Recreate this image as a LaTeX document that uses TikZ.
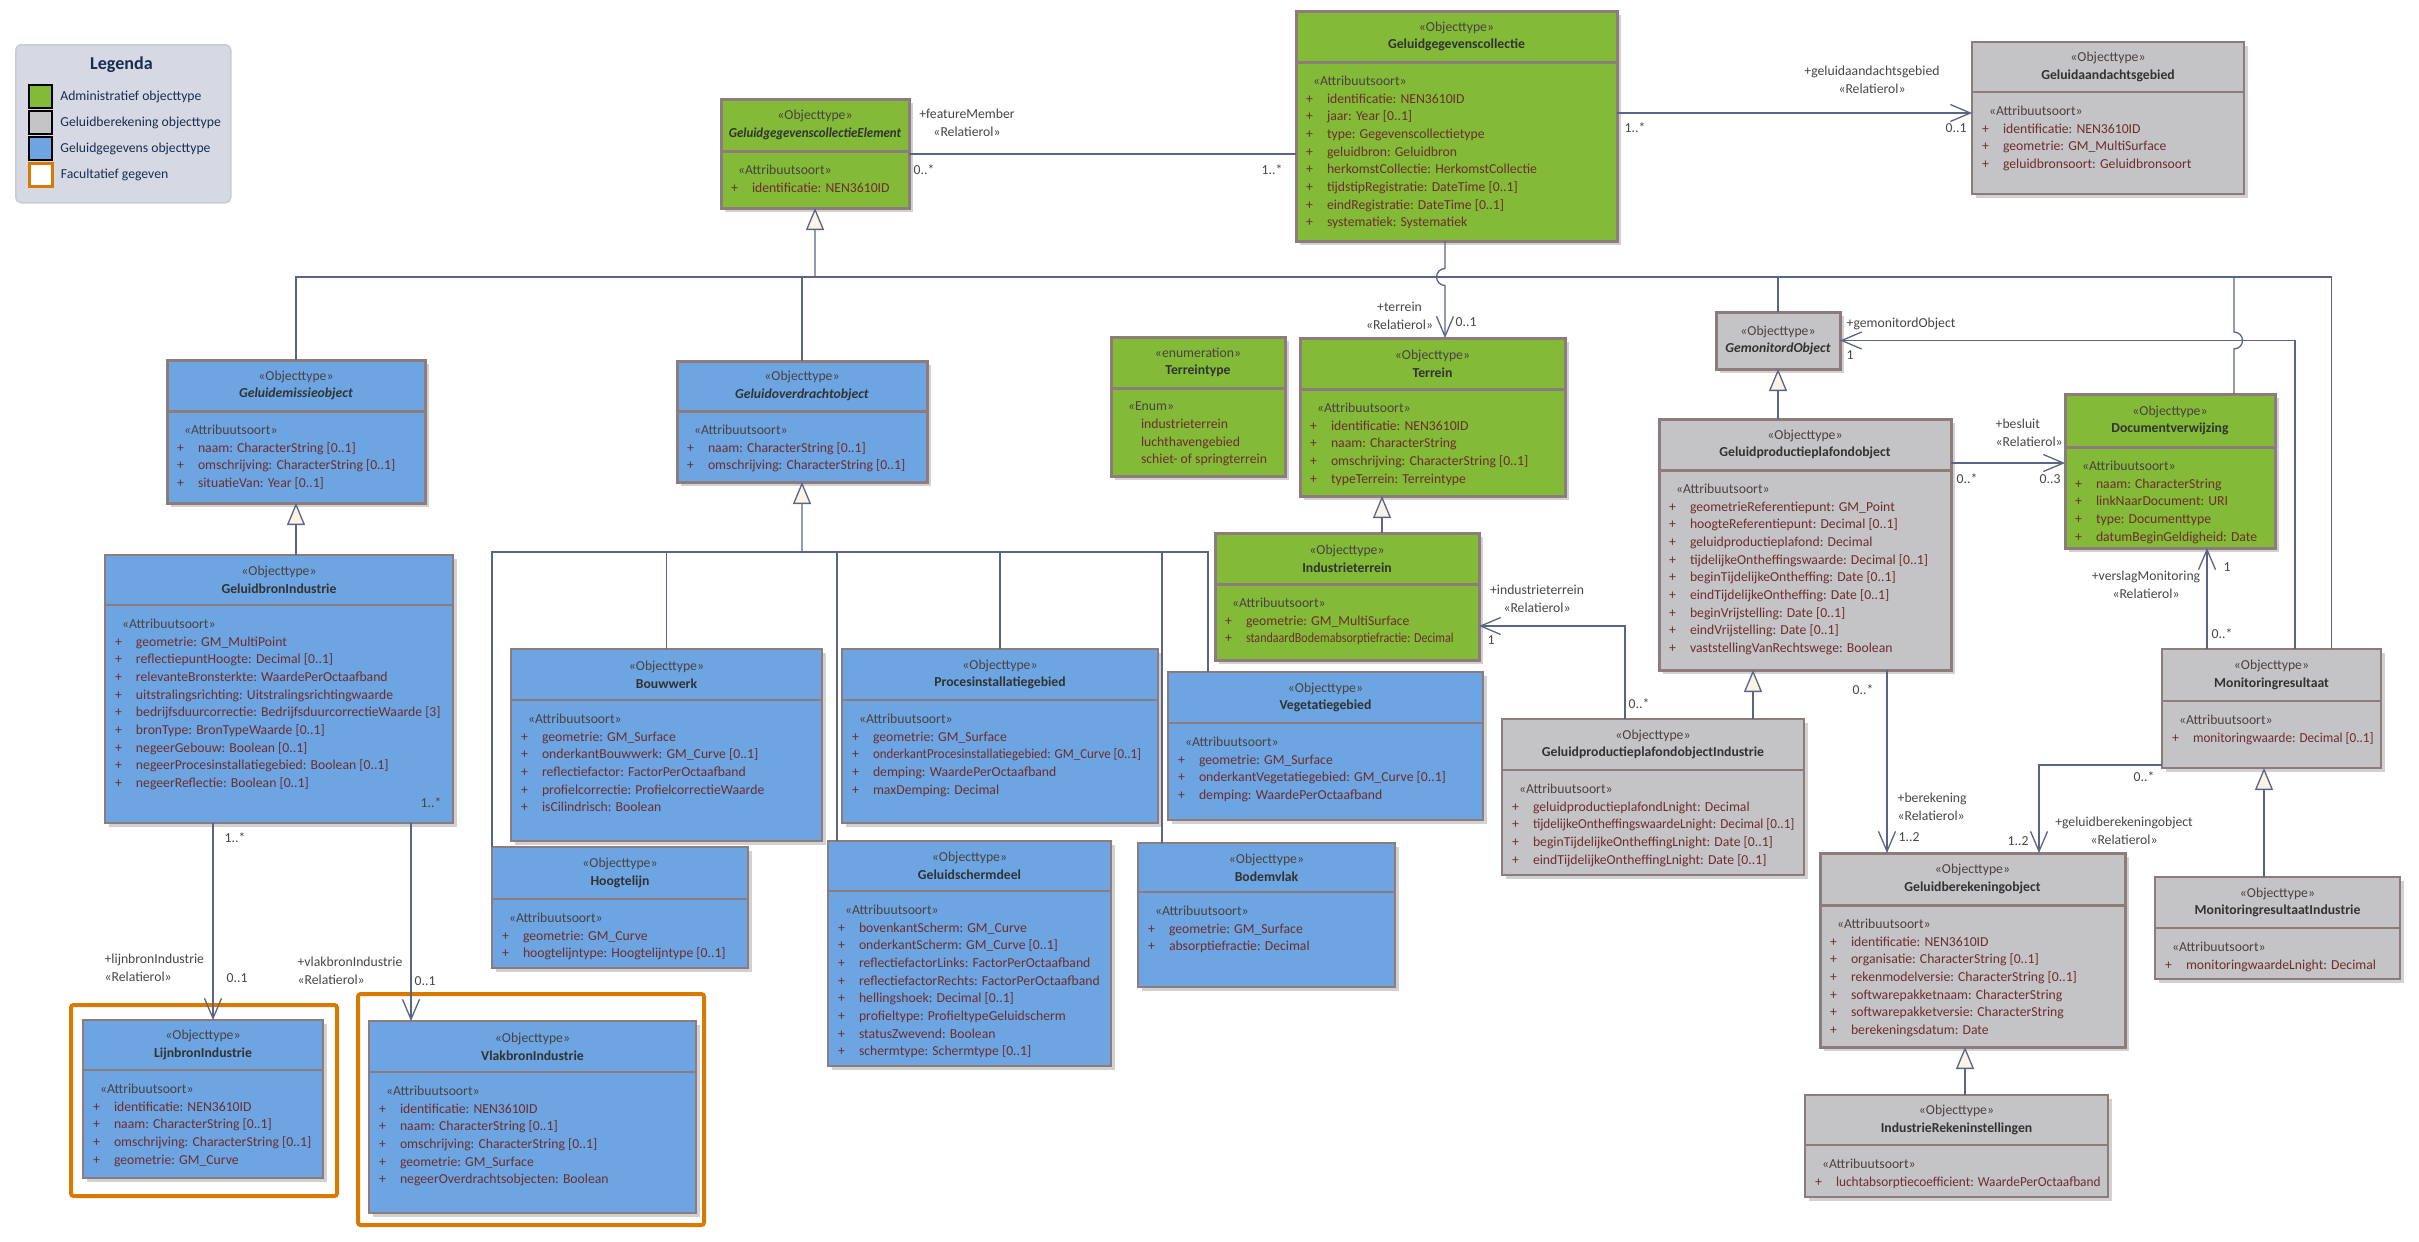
\documentclass[tikz,border=0pt]{standalone}
\usepackage{fontspec}
\setmainfont{Carlito}
\usepackage{tikz}
\usetikzlibrary{arrows.meta}
\usetikzlibrary{positioning,shadows}

\definecolor{admin}{RGB}{131,186,56}
\definecolor{reken}{RGB}{196,196,198}
\definecolor{gegevens}{RGB}{108,165,225}
\definecolor{rand}{RGB}{142,124,124}
\definecolor{lijnkleur}{RGB}{90,100,135}
\definecolor{creme}{RGB}{251,243,228}
\definecolor{oranje}{RGB}{217,122,0}
\definecolor{naamkleur}{RGB}{50,50,50}
\definecolor{stereokleur}{RGB}{75,65,65}
\definecolor{attrkleur}{RGB}{110,45,45}
\definecolor{labelkleur}{RGB}{70,70,70}
\definecolor{legbg}{RGB}{214,217,227}
\definecolor{legrand}{RGB}{200,203,213}
\definecolor{legblauw}{RGB}{25,45,80}

\newcommand{\objtype}{\textcolor{stereokleur}{«Objecttype»}}
\newcommand{\soort}[1][«Attribuutsoort»]{\vspace*{0.28cm}\mbox{\hspace*{0.34cm}\textcolor{stereokleur}{#1}}\par}
\newcommand{\attr}[1]{\mbox{\hspace*{0.2cm}\makebox[0.42cm][l]{+}#1}\par}
\newcommand{\waarde}[1]{\mbox{\hspace*{0.6cm}#1}\par}

\tikzset{
    font={\fontsize{7.8pt}{10.05pt}\selectfont},
    kop/.style={
           rectangle,
           draw=rand, line width=0.03cm,
           anchor=north west,
           inner sep=0pt, outer sep=0pt,
           align=center,
           text=naamkleur,
           drop shadow={shadow xshift=0.08cm, shadow yshift=-0.08cm, fill=black!18, opacity=1},
           },
    romp/.style={
           rectangle,
           draw=rand, line width=0.03cm,
           inner sep=0pt, outer sep=0pt,
           text=attrkleur,
           drop shadow={shadow xshift=0.08cm, shadow yshift=-0.08cm, fill=black!18, opacity=1},
           },
    vet/.style={line width=0.06cm},
    groen/.style={fill=admin},
    grijs/.style={fill=reken},
    blauw/.style={fill=gegevens},
    lijn/.style={draw=lijnkleur, line width=0.026cm},
    pijl/.style={lijn, -{Straight Barb[length=0.40cm, width=0.34cm]}},
    erft/.style={lijn, -{Triangle[length=0.44cm, width=0.36cm, fill=creme]}},
    rol/.style={text=labelkleur, inner sep=0pt, align=center},
    mult/.style={text=labelkleur, inner sep=0pt, anchor=west},
    facultatief/.style={draw=oranje, line width=0.08cm, rounded corners=1.5pt},
    vakje/.style={rectangle, minimum size=0.46cm, inner sep=0pt, draw=black, line width=0.04cm},
    legregel/.style={text=legblauw, inner sep=0pt, anchor=west},
}

\begin{document}
\begin{tikzpicture}
\useasboundingbox (0,0) rectangle (48.38,-24.82);

% Legenda
\node[draw=legrand, fill=legbg, rounded corners=3pt, line width=0.03cm, anchor=north west,
      minimum width=4.30cm, minimum height=3.16cm] (LEGENDA) at (0.30,-0.88) {};
\node[text=legblauw, inner sep=0pt, font={\fontsize{10.3pt}{12pt}\selectfont\bfseries}] (LEGTITEL) at (2.43,-1.30) {Legenda};
\node[vakje, fill=admin] (LEG1) at (0.81,-1.93) {};
\node[vakje, fill=reken] (LEG2) at (0.81,-2.45) {};
\node[vakje, fill=gegevens] (LEG3) at (0.81,-2.97) {};
\node[vakje, fill=white, draw=oranje, line width=0.06cm] (LEG4) at (0.81,-3.50) {};
\node[legregel, right=0.14cm of LEG1] (LEG1T) {Administratief objecttype};
\node[legregel, right=0.14cm of LEG2] (LEG2T) {Geluidberekening objecttype};
\node[legregel, right=0.14cm of LEG3] (LEG3T) {Geluidgegevens objecttype};
\node[legregel, right=0.14cm of LEG4] (LEG4T) {Facultatief gegeven};

% facultatieve gegevens
\draw[facultatief] (1.42,-20.10) rectangle (6.74,-23.92);
\draw[facultatief] (7.16,-19.88) rectangle (14.08,-24.50);

% Geluidgegevenscollectie
\node[kop, groen, vet, minimum width=6.42cm, minimum height=1.02cm] (GGC) at (25.92,-0.22) {\objtype\\\textbf{Geluidgegevenscollectie}};
\node[romp, groen, vet, below right=0pt of GGC.south west] (GGCA) {\parbox[c][3.58cm][t]{6.42cm}{\soort
    \attr{identificatie: NEN3610ID}
    \attr{jaar: Year [0..1]}
    \attr{type: Gegevenscollectietype}
    \attr{geluidbron: Geluidbron}
    \attr{herkomstCollectie: HerkomstCollectie}
    \attr{tijdstipRegistratie: DateTime [0..1]}
    \attr{eindRegistratie: DateTime [0..1]}
    \attr{systematiek: Systematiek}}};

% GeluidgegevenscollectieElement
\node[kop, groen, vet, minimum width=3.76cm, minimum height=1.04cm] (GGCE) at (14.42,-1.98) {\objtype\\\scalebox{0.94}[1]{\textbf{\textit{GeluidgegevenscollectieElement}}}};
\node[romp, groen, vet, below right=0pt of GGCE.south west] (GGCEA) {\parbox[c][1.14cm][t]{3.76cm}{\soort
    \attr{identificatie: NEN3610ID}}};

% Geluidaandachtsgebied
\node[kop, grijs, minimum width=5.44cm, minimum height=1.00cm] (GAG) at (39.44,-0.84) {\objtype\\\textbf{Geluidaandachtsgebied}};
\node[romp, grijs, below right=0pt of GAG.south west] (GAGA) {\parbox[c][2.04cm][t]{5.44cm}{\soort
    \attr{identificatie: NEN3610ID}
    \attr{geometrie: GM\_MultiSurface}
    \attr{geluidbronsoort: Geluidbronsoort}}};

% Geluidemissieobject
\node[kop, blauw, vet, minimum width=5.16cm, minimum height=1.02cm] (GEO) at (3.34,-7.20) {\objtype\\\textbf{\textit{Geluidemissieobject}}};
\node[romp, blauw, vet, below right=0pt of GEO.south west] (GEOA) {\parbox[c][1.84cm][t]{5.16cm}{\soort
    \attr{naam: CharacterString [0..1]}
    \attr{omschrijving: CharacterString [0..1]}
    \attr{situatieVan: Year [0..1]}}};

% Geluidoverdrachtobject
\node[kop, blauw, vet, minimum width=5.00cm, minimum height=1.00cm] (GOO) at (13.54,-7.22) {\objtype\\\textbf{\textit{Geluidoverdrachtobject}}};
\node[romp, blauw, vet, below right=0pt of GOO.south west] (GOOA) {\parbox[c][1.42cm][t]{5.00cm}{\soort
    \attr{naam: CharacterString [0..1]}
    \attr{omschrijving: CharacterString [0..1]}}};

% Terreintype
\node[kop, groen, vet, minimum width=3.48cm, minimum height=1.02cm] (TT) at (22.22,-6.74) {\textcolor{stereokleur}{«enumeration»}\\\textbf{Terreintype}};
\node[romp, groen, vet, below right=0pt of TT.south west] (TTA) {\parbox[c][1.76cm][t]{3.48cm}{\soort[«Enum»]
    \waarde{industrieterrein}
    \waarde{luchthavengebied}
    \waarde{schiet- of springterrein}}};

% Terrein
\node[kop, groen, vet, minimum width=5.30cm, minimum height=1.02cm] (TER) at (26.00,-6.76) {\objtype\\\textbf{Terrein}};
\node[romp, groen, vet, below right=0pt of TER.south west] (TERA) {\parbox[c][2.14cm][t]{5.30cm}{\soort
    \attr{identificatie: NEN3610ID}
    \attr{naam: CharacterString}
    \attr{omschrijving: CharacterString [0..1]}
    \attr{typeTerrein: Terreintype}}};

% Industrieterrein
\node[kop, groen, vet, minimum width=5.28cm, minimum height=1.02cm] (IT) at (24.30,-10.66) {\objtype\\\textbf{Industrieterrein}};
\node[romp, groen, vet, below right=0pt of IT.south west] (ITA) {\parbox[c][1.52cm][t]{5.28cm}{\soort
    \attr{geometrie: GM\_MultiSurface}
    \attr{\scalebox{0.88}[1]{standaardBodemabsorptiefractie: Decimal}}}};

% GemonitordObject
\node[kop, grijs, vet, minimum width=2.48cm, minimum height=1.14cm] (GMO) at (34.32,-6.24) {\objtype\\\textbf{\textit{GemonitordObject}}};

% Geluidproductieplafondobject
\node[kop, grijs, vet, minimum width=5.84cm, minimum height=1.02cm] (GPO) at (33.18,-8.38) {\objtype\\\textbf{Geluidproductieplafondobject}};
\node[romp, grijs, vet, below right=0pt of GPO.south west] (GPOA) {\parbox[c][4.00cm][t]{5.84cm}{\soort
    \attr{geometrieReferentiepunt: GM\_Point}
    \attr{hoogteReferentiepunt: Decimal [0..1]}
    \attr{geluidproductieplafond: Decimal}
    \attr{tijdelijkeOntheffingswaarde: Decimal [0..1]}
    \attr{beginTijdelijkeOntheffing: Date [0..1]}
    \attr{eindTijdelijkeOntheffing: Date [0..1]}
    \attr{beginVrijstelling: Date [0..1]}
    \attr{eindVrijstelling: Date [0..1]}
    \attr{vaststellingVanRechtswege: Boolean}}};

% Documentverwijzing
\node[kop, groen, vet, minimum width=4.20cm, minimum height=1.06cm] (DV) at (41.30,-7.88) {\objtype\\\textbf{Documentverwijzing}};
\node[romp, groen, vet, below right=0pt of DV.south west] (DVA) {\parbox[c][2.02cm][t]{4.20cm}{\soort
    \attr{naam: CharacterString}
    \attr{linkNaarDocument: URI}
    \attr{type: Documenttype}
    \attr{datumBeginGeldigheid: Date}}};

% Monitoringresultaat
\node[kop, grijs, minimum width=4.38cm, minimum height=1.04cm] (MR) at (43.24,-12.98) {\objtype\\\textbf{Monitoringresultaat}};
\node[romp, grijs, below right=0pt of MR.south west] (MRA) {\parbox[c][1.34cm][t]{4.38cm}{\soort
    \attr{\scalebox{0.96}[1]{monitoringwaarde: Decimal [0..1]}}}};

% GeluidbronIndustrie
\node[kop, blauw, minimum width=6.96cm, minimum height=1.00cm] (GBI) at (2.10,-11.10) {\objtype\\\textbf{GeluidbronIndustrie}};
\node[romp, blauw, below right=0pt of GBI.south west] (GBIA) {\parbox[c][4.36cm][t]{6.96cm}{\soort
    \attr{geometrie: GM\_MultiPoint}
    \attr{reflectiepuntHoogte: Decimal [0..1]}
    \attr{relevanteBronsterkte: WaardePerOctaafband}
    \attr{uitstralingsrichting: Uitstralingsrichtingwaarde}
    \attr{bedrijfsduurcorrectie: BedrijfsduurcorrectieWaarde [3]}
    \attr{bronType: BronTypeWaarde [0..1]}
    \attr{negeerGebouw: Boolean [0..1]}
    \attr{negeerProcesinstallatiegebied: Boolean [0..1]}
    \attr{negeerReflectie: Boolean [0..1]}}};

% Bouwwerk
\node[kop, blauw, minimum width=6.22cm, minimum height=1.02cm] (BW) at (10.22,-12.98) {\objtype\\\textbf{Bouwwerk}};
\node[romp, blauw, below right=0pt of BW.south west] (BWA) {\parbox[c][2.82cm][t]{6.22cm}{\soort
    \attr{geometrie: GM\_Surface}
    \attr{onderkantBouwwerk: GM\_Curve [0..1]}
    \attr{reflectiefactor: FactorPerOctaafband}
    \attr{profielcorrectie: ProfielcorrectieWaarde}
    \attr{isCilindrisch: Boolean}}};

% Procesinstallatiegebied
\node[kop, blauw, minimum width=6.32cm, minimum height=1.02cm] (PIG) at (16.84,-12.98) {\objtype\\\textbf{Procesinstallatiegebied}};
\node[romp, blauw, below right=0pt of PIG.south west] (PIGA) {\parbox[c][2.46cm][t]{6.32cm}{\soort
    \attr{geometrie: GM\_Surface}
    \attr{\scalebox{0.94}[1]{onderkantProcesinstallatiegebied: GM\_Curve [0..1]}}
    \attr{demping: WaardePerOctaafband}
    \attr{maxDemping: Decimal}}};

% Vegetatiegebied
\node[kop, blauw, minimum width=6.30cm, minimum height=1.02cm] (VG) at (23.36,-13.44) {\objtype\\\textbf{Vegetatiegebied}};
\node[romp, blauw, below right=0pt of VG.south west] (VGA) {\parbox[c][1.94cm][t]{6.30cm}{\soort
    \attr{geometrie: GM\_Surface}
    \attr{onderkantVegetatiegebied: GM\_Curve [0..1]}
    \attr{demping: WaardePerOctaafband}}};

% Hoogtelijn
\node[kop, blauw, minimum width=5.12cm, minimum height=1.04cm] (HL) at (9.84,-16.94) {\objtype\\\textbf{Hoogtelijn}};
\node[romp, blauw, below right=0pt of HL.south west] (HLA) {\parbox[c][1.38cm][t]{5.12cm}{\soort
    \attr{geometrie: GM\_Curve}
    \attr{hoogtelijntype: Hoogtelijntype [0..1]}}};

% Geluidschermdeel
\node[kop, blauw, minimum width=5.66cm, minimum height=1.00cm] (GSD) at (16.56,-16.82) {\objtype\\\textbf{Geluidschermdeel}};
\node[romp, blauw, below right=0pt of GSD.south west] (GSDA) {\parbox[c][3.50cm][t]{5.66cm}{\soort
    \attr{bovenkantScherm: GM\_Curve}
    \attr{onderkantScherm: GM\_Curve [0..1]}
    \attr{reflectiefactorLinks: FactorPerOctaafband}
    \attr{reflectiefactorRechts: FactorPerOctaafband}
    \attr{hellingshoek: Decimal [0..1]}
    \attr{profieltype: ProfieltypeGeluidscherm}
    \attr{statusZwevend: Boolean}
    \attr{schermtype: Schermtype [0..1]}}};

% Bodemvlak
\node[kop, blauw, minimum width=5.14cm, minimum height=0.98cm] (BV) at (22.76,-16.86) {\objtype\\\textbf{Bodemvlak}};
\node[romp, blauw, below right=0pt of BV.south west] (BVA) {\parbox[c][1.90cm][t]{5.14cm}{\soort
    \attr{geometrie: GM\_Surface}
    \attr{absorptiefractie: Decimal}}};

% GeluidproductieplafondobjectIndustrie
\node[kop, grijs, minimum width=6.04cm, minimum height=1.02cm] (GPPOI) at (30.04,-14.38) {\objtype\\\textbf{GeluidproductieplafondobjectIndustrie}};
\node[romp, grijs, below right=0pt of GPPOI.south west] (GPPOIA) {\parbox[c][2.10cm][t]{6.04cm}{\soort
    \attr{geluidproductieplafondLnight: Decimal}
    \attr{\scalebox{0.96}[1]{tijdelijkeOntheffingswaardeLnight: Decimal [0..1]}}
    \attr{beginTijdelijkeOntheffingLnight: Date [0..1]}
    \attr{eindTijdelijkeOntheffingLnight: Date [0..1]}}};

% Geluidberekeningobject
\node[kop, grijs, vet, minimum width=6.10cm, minimum height=1.04cm] (GBO) at (36.40,-17.06) {\objtype\\\textbf{Geluidberekeningobject}};
\node[romp, grijs, vet, below right=0pt of GBO.south west] (GBOA) {\parbox[c][2.84cm][t]{6.10cm}{\soort
    \attr{identificatie: NEN3610ID}
    \attr{organisatie: CharacterString [0..1]}
    \attr{rekenmodelversie: CharacterString [0..1]}
    \attr{softwarepakketnaam: CharacterString}
    \attr{softwarepakketversie: CharacterString}
    \attr{berekeningsdatum: Date}}};

% MonitoringresultaatIndustrie
\node[kop, grijs, minimum width=4.90cm, minimum height=1.02cm] (MRI) at (43.10,-17.54) {\objtype\\\textbf{MonitoringresultaatIndustrie}};
\node[romp, grijs, below right=0pt of MRI.south west] (MRIA) {\parbox[c][1.02cm][t]{4.90cm}{\soort
    \attr{monitoringwaardeLnight: Decimal}}};

% IndustrieRekeninstellingen
\node[kop, grijs, minimum width=6.06cm, minimum height=1.00cm] (IRI) at (36.10,-21.90) {\objtype\\\textbf{IndustrieRekeninstellingen}};
\node[romp, grijs, below right=0pt of IRI.south west] (IRIA) {\parbox[c][1.04cm][t]{6.06cm}{\soort
    \attr{\scalebox{0.97}[1]{luchtabsorptiecoefficient: WaardePerOctaafband}}}};

% LijnbronIndustrie
\node[kop, blauw, minimum width=4.80cm, minimum height=1.00cm] (LBI) at (1.66,-20.40) {\objtype\\\textbf{LijnbronIndustrie}};
\node[romp, blauw, below right=0pt of LBI.south west] (LBIA) {\parbox[c][2.16cm][t]{4.80cm}{\soort
    \attr{identificatie: NEN3610ID}
    \attr{naam: CharacterString [0..1]}
    \attr{omschrijving: CharacterString [0..1]}
    \attr{geometrie: GM\_Curve}}};

% VlakbronIndustrie
\node[kop, blauw, minimum width=6.54cm, minimum height=1.02cm] (VBI) at (7.38,-20.42) {\objtype\\\textbf{VlakbronIndustrie}};
\node[romp, blauw, below right=0pt of VBI.south west] (VBIA) {\parbox[c][2.82cm][t]{6.54cm}{\soort
    \attr{identificatie: NEN3610ID}
    \attr{naam: CharacterString [0..1]}
    \attr{omschrijving: CharacterString [0..1]}
    \attr{geometrie: GM\_Surface}
    \attr{negeerOverdrachtsobjecten: Boolean}}};

% generalisaties naar GeluidgegevenscollectieElement
\coordinate (busA) at (16.30,-5.54);
\coordinate (dvb) at ([xshift=1.28cm]DV.north);
\coordinate (sprong2) at (44.68,-6.98);
\draw[erft] (busA) -- (GGCEA.south);
\draw[lijn] (GEO.north) |- (busA);
\draw[lijn] (GOO.north) |- (busA);
\draw[lijn] (GMO.north) |- (busA);
\draw[lijn] (dvb) -- (sprong2) arc[start angle=-90, end angle=90, radius=0.17cm] -- (dvb |- busA) -- (busA);
\draw[lijn] ([xshift=1.20cm]MR.north) |- (busA);

% generalisaties naar Geluidoverdrachtobject
\coordinate (busB) at (16.04,-11.04);
\draw[erft] (busB) -- (GOOA.south);
\draw[lijn] (HL.north west) |- (busB);
\draw[lijn] (BW.north) |- (busB);
\draw[lijn] ([xshift=0.18cm]GSD.north west) |- (busB);
\draw[lijn] (PIG.north) |- (busB);
\draw[lijn] ([xshift=0.48cm]BV.north west) |- (busB);
\draw[lijn] ([xshift=0.80cm]VG.north west) |- (busB);

% overige generalisaties
\coordinate (tt) at ([xshift=-1.01cm]TERA.south);
\coordinate (pp) at ([xshift=-1.04cm]GPOA.south);
\coordinate (ir) at ([xshift=-0.15cm]GBOA.south);
\coordinate (mi) at ([xshift=-0.15cm]MRA.south);
\draw[erft] (GBI.north -| GEOA.south) -- (GEOA.south);
\draw[erft] (tt |- IT.north) -- (tt);
\draw[erft] (GPO.north -| GMO.south) -- (GMO.south);
\draw[erft] (pp |- GPPOI.north) -- (pp);
\draw[erft] (ir |- IRI.north) -- (ir);
\draw[erft] (mi |- MRI.north) -- (mi);

% relaties
\coordinate (fm) at ([yshift=-0.06cm]GGCEA.north east);
\draw[lijn] (fm) -- (fm -| GGCA.west)
    node[rol] at (19.34,-2.45) {+featureMember\\«Relatierol»}
    node[mult] at (18.26,-3.40) {0..*}
    node[mult] at (25.22,-3.40) {1..*};

\coordinate (ga) at ([yshift=-1.02cm]GGCA.north east);
\draw[pijl] (ga) -- (ga -| GAGA.west)
    node[rol] at (37.44,-1.59) {+geluidaandachtsgebied\\«Relatierol»}
    node[mult] at (32.48,-2.56) {1..*}
    node[mult] at (38.90,-2.56) {0..1};

\coordinate (tr) at ([xshift=-0.23cm]GGCA.south);
\coordinate (sprong1) at (28.90,-5.37);
\draw[pijl] (tr) -- (sprong1) arc[start angle=90, end angle=270, radius=0.17cm] -- (tr |- TER.north)
    node[rol] at (27.99,-6.32) {+terrein\\«Relatierol»}
    node[mult] at (29.10,-6.44) {0..1};

\coordinate (gm) at ([xshift=0.47cm]MR.north);
\draw[pijl] (gm) |- (GMO.east)
    node[mult] at (36.92,-6.48) {+gemonitordObject}
    node[mult] at (36.92,-7.10) {1};

\coordinate (bs) at ([yshift=0.14cm]GPOA.north east);
\draw[pijl] (bs) -- (bs -| DVA.west)
    node[rol, anchor=west, align=left] at (39.90,-8.66) {+besluit\\«Relatierol»}
    node[mult] at (39.12,-9.58) {0..*}
    node[mult] at (40.78,-9.58) {0..3};

\coordinate (vm) at ([xshift=-1.29cm]MR.north);
\draw[pijl] (vm) -- (vm |- DVA.south)
    node[rol] at (42.92,-11.70) {+verslagMonitoring\\«Relatierol»}
    node[mult] at (44.46,-11.34) {1}
    node[mult] at (44.22,-12.68) {0..*};

\coordinate (br) at ([xshift=1.64cm]GPOA.south);
\draw[pijl] (br) -- (br |- GBO.north)
    node[mult] at (37.04,-13.80) {0..*}
    node[rol, anchor=west, align=left] at (37.94,-16.13) {+berekening\\«Relatierol»}
    node[mult] at (37.96,-16.74) {1..2};

\coordinate (gb) at ([yshift=0.06cm]MRA.south west);
\draw[pijl] (gb) -| ([xshift=1.33cm]GBO.north)
    node[mult] at (42.66,-15.54) {0..*}
    node[rol] at (42.48,-16.62) {+geluidberekeningobject\\«Relatierol»}
    node[mult] at (40.14,-16.82) {1..2};

\coordinate (it) at ([xshift=-0.56cm]GPPOI.north);
\draw[pijl] (it) |- ([yshift=-0.84cm]ITA.north east)
    node[rol] at (30.74,-11.98) {+industrieterrein\\«Relatierol»}
    node[mult] at (29.74,-12.80) {1}
    node[mult] at (32.56,-14.08) {0..*};

\coordinate (lb) at ([xshift=0.20cm]LBI.north);
\draw[pijl] (lb |- GBIA.south) -- (lb)
    node[mult] at (4.48,-16.76) {1..*}
    node[rol, anchor=west, align=left] at (2.08,-19.35) {+lijnbronIndustrie\\«Relatierol»}
    node[mult] at (4.52,-19.56) {0..1};

\coordinate (vb) at ([xshift=-2.43cm]VBI.north);
\draw[pijl] (vb |- GBIA.south) -- (vb)
    node[mult] at (8.40,-16.06) {1..*}
    node[rol, anchor=west, align=left] at (5.94,-19.41) {+vlakbronIndustrie\\«Relatierol»}
    node[mult] at (8.28,-19.62) {0..1};

\end{tikzpicture}
\end{document}
